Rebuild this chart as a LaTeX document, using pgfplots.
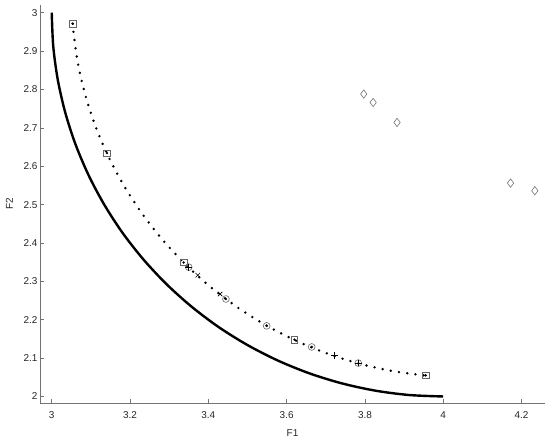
\documentclass[border=0pt]{standalone}
\usepackage{pgfplots}
\pgfplotsset{compat=1.18}
\usepackage{fontspec}
\setmainfont{Liberation Sans}
\begin{document}
\begin{tikzpicture}
\begin{axis}[at={(0,0)}, anchor=south west,
  scale only axis, width=505bp, height=398bp,
  xmin=2.97, xmax=4.26, ymin=1.983, ymax=3.02,
  axis lines*=left,
  axis line style={black!55, line width=0.6pt},
  tick align=inside, major tick length=4bp,
  tick style={black!55, line width=0.6pt},
  xtick={3,3.2,3.4,3.6,3.8,4,4.2},
  ytick={2,2.1,2.2,2.3,2.4,2.5,2.6,2.7,2.8,2.9,3},
  /pgf/number format/assume math mode=true,
  ticklabel style={font=\fontsize{10}{12}\selectfont, text=black!85},
  xticklabel style={yshift=-5bp},
  yticklabel style={xshift=1bp},
  label style={font=\fontsize{10}{12}\selectfont, text=black!85},
  xlabel={F1}, ylabel={F2},
  xlabel style={yshift=-4bp},
  ylabel style={yshift=4bp},
  clip=false,
]
% Pareto front (solid)
\addplot[black, line width=2.4bp, smooth, no markers] coordinates {
(3.0000,3.0000) (3.0038,2.9128) (3.0152,2.8264) (3.0341,2.7412) (3.0603,2.6580)
(3.0937,2.5774) (3.1340,2.5000) (3.1808,2.4264) (3.2340,2.3572) (3.2929,2.2929)
(3.3572,2.2340) (3.4264,2.1808) (3.5000,2.1340) (3.5774,2.0937) (3.6580,2.0603)
(3.7412,2.0341) (3.8264,2.0152) (3.9128,2.0038) (4.0000,2.0000)};
% approximated front (dotted)
\addplot[black, line width=2.7bp, line cap=round, dash pattern=on 0pt off 8.3bp, smooth, no markers] coordinates {
(3.0531,2.9715) (3.0652,2.8764) (3.0841,2.7912) (3.1103,2.7080) (3.1437,2.6274)
(3.1840,2.5500) (3.2308,2.4764) (3.2840,2.4072) (3.3429,2.3429) (3.4072,2.2840)
(3.4764,2.2308) (3.5500,2.1840) (3.6274,2.1437) (3.7080,2.1103) (3.7912,2.0841)
(3.8764,2.0652) (3.9542,2.0546)};
% squares
\addplot[only marks, mark=square, mark size=3.2bp, mark options={draw=black!60, line width=0.6pt}] coordinates {
(3.054,2.971) (3.141,2.634) (3.337,2.349) (3.620,2.148) (3.955,2.055)};
% circles
\addplot[only marks, mark=o, mark size=3.4bp, mark options={draw=black!60, line width=0.6pt}] coordinates {
(3.350,2.337) (3.445,2.254) (3.549,2.184) (3.664,2.129) (3.783,2.087)};
% centre dots
\addplot[only marks, mark=*, mark size=1bp, black] coordinates {
(3.054,2.971) (3.141,2.634) (3.337,2.349) (3.620,2.148) (3.955,2.055)
(3.445,2.254) (3.549,2.184) (3.664,2.129)};
% plus
\addplot[only marks, mark=+, mark size=3.4bp, mark options={draw=black, line width=0.6pt}] coordinates {
(3.350,2.337) (3.723,2.106) (3.783,2.087)};
% cross
\addplot[only marks, mark=x, mark size=3.2bp, mark options={draw=black, line width=0.6pt}] coordinates {
(3.373,2.316) (3.430,2.267)};
% diamonds
\addplot[only marks, mark=diamond, mark size=4.2bp, mark options={draw=black!55, line width=0.6pt}] coordinates {
(3.797,2.788) (3.821,2.766) (3.882,2.714) (4.172,2.556) (4.234,2.536)};
\end{axis}
\pgfresetboundingbox
\path[use as bounding box] (-40bp,-34bp) rectangle (510bp,403bp);
\end{tikzpicture}
\end{document}
